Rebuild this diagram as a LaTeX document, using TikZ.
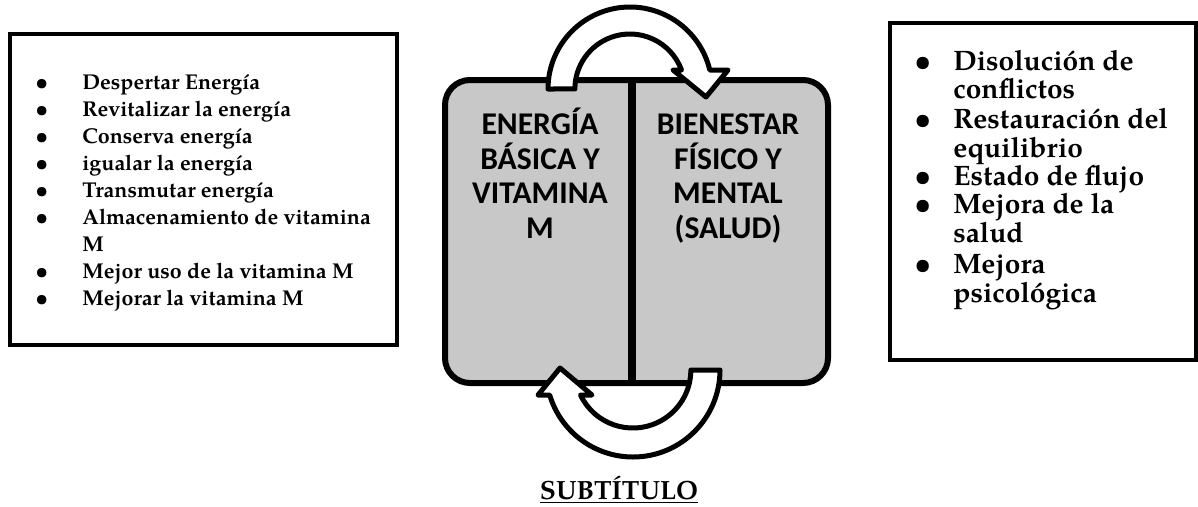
\documentclass[tikz,border=0pt]{standalone}
\usepackage{fontspec}
\setmainfont{texgyrepagella}[Extension=.otf, UprightFont=*-regular, BoldFont=*-bold, ItalicFont=*-italic, BoldItalicFont=*-bolditalic]
\newfontfamily\cajafont{Carlito}
\definecolor{grisclaro}{RGB}{200,200,200}
\usetikzlibrary{positioning,calc}

\begin{document}
\begin{tikzpicture}[
    caja/.style={draw=black, line width=0.08cm, fill=white, minimum width=#1},
    flecha/.style={draw=black, fill=white, line width=0.1cm, line join=round},
    itemizq/.style={font=\fontsize{12.2}{15}\selectfont\bfseries, inner sep=0pt, anchor=base west},
    itemder/.style={font=\fontsize{16}{17}\selectfont\bfseries, inner sep=0pt, anchor=base west},
    titulo/.style={font=\cajafont\fontsize{18}{19.6}\selectfont\bfseries, align=center, inner sep=0pt, anchor=base}
]
    \useasboundingbox (0,0) rectangle (23.96,10.12);

    % cajas laterales
    \node[caja=7.74cm, minimum height=6.22cm] (izq) at (4.07,6.33) {};
    \node[caja=6.12cm, minimum height=6.74cm] (der) at (20.86,6.29) {};

    % caja central
    \node[draw=black, line width=0.12cm, fill=grisclaro, rounded corners=0.5cm, minimum width=7.66cm, minimum height=6.06cm] (centro) at (12.73,5.49) {};
    \draw[line width=0.16cm] ($(centro.north)+(-0.09,0)$) -- ($(centro.south)+(-0.09,0)$);
    \node[titulo] (energia) at (10.80,5.36) {ENERGÍA\\BÁSICA Y\\VITAMINA\\M};
    \node[titulo] (bienestar) at (14.56,5.36) {BIENESTAR\\FÍSICO Y\\MENTAL\\(SALUD)};

    % flechas
    \draw[flecha] (10.96,8.34) arc[start angle=180, end angle=13.4, radius=1.64]
        -- (14.56,8.72) -- (14.12,8.18) -- (13.46,8.72)
        -- (13.63,8.72) arc[start angle=20.2, end angle=180, radius=1.10] -- cycle;
    \draw[flecha] (14.40,2.72) arc[start angle=0, end angle=-163.3, radius=1.74]
        -- (10.76,2.22) -- (11.20,2.76) -- (11.84,2.22)
        -- (11.61,2.22) arc[start angle=-154.5, end angle=0, radius=1.16] -- cycle;

    % lista izquierda
    \foreach \n/\texto in {0/Despertar Energía, 1/Revitalizar la energía, 2/Conserva energía,
        3/igualar la energía, 4/Transmutar energía, 5/Almacenamiento de vitamina, 6/M,
        7/Mejor uso de la vitamina M, 8/Mejorar la vitamina M}
        \node[itemizq] (li\n) at (1.64,{8.34-0.542*\n}) {\texto};
    \foreach \n in {0,1,2,3,4,5,7,8}
        \node[itemizq] (bi\n) at (0.70,{8.34-0.542*\n}) {\textbullet};

    % lista derecha
    \foreach \y/\texto [count=\i] in {8.72/Disolución de, 8.16/conflictos, 7.56/Restauración del,
        6.98/equilibrio, 6.42/Estado de flujo, 5.86/Mejora de la, 5.28/salud,
        4.66/Mejora, 4.08/psicológica}
        \node[itemder] (ld\i) at (19.06,\y) {\texto};
    \foreach \y [count=\i] in {8.72,7.56,6.42,5.86,4.66}
        \node[itemder] (bd\i) at (18.28,\y) {\textbullet};

    % subtitulo
    \node[font=\fontsize{15}{17}\selectfont\bfseries, inner sep=0pt, anchor=base] (sub) at (12.38,0.14) {\underline{SUBTÍTULO}};
\end{tikzpicture}
\end{document}
